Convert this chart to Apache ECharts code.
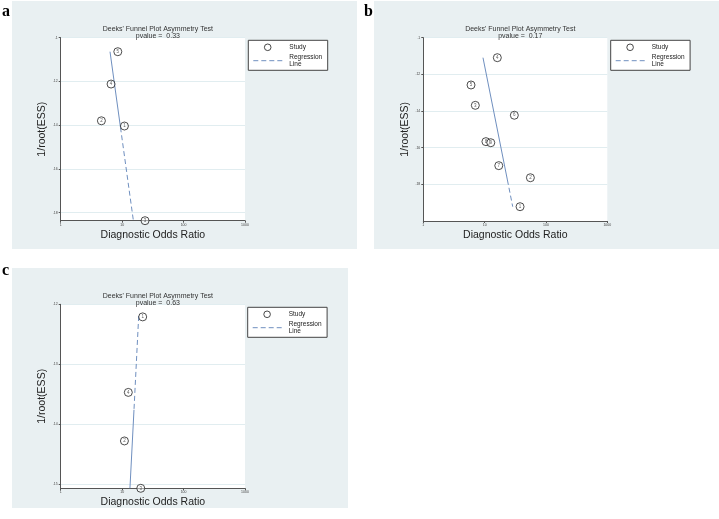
<!DOCTYPE html>
<html><head><meta charset="utf-8">
<script src="https://cdn.jsdelivr.net/npm/echarts@6/dist/echarts.min.js"></script>
<style>html,body{margin:0;padding:0;background:#fff}#c{width:719px;height:519px}</style>
</head><body><div id="c"></div>
<script>
// ---- Data ----
const panelLabels = ['a', 'b', 'c'];
const pvalues = ['0.33', '0.17', '0.63'];
const xTicks = [1, 10, 100, 1000];

// Panel a: [DOR, 1/root(ESS), study id]
const studiesA = [[8.5, 0.1064, 5], [6.6, 0.1212, 4], [4.6, 0.1380, 2], [10.9, 0.1404, 1], [23.6, 0.1837, 3]];
const regSolidA = [[6.35, 0.1064], [9.4, 0.141]];
const regDashA = [[9.4, 0.141], [15.2, 0.1834]];

// Panel b
const studiesB = [[16.1, 0.1109, 4], [6.0, 0.1258, 5], [7.05, 0.1369, 3], [30.5, 0.1423, 6], [10.5, 0.1567, 8],
  [12.6, 0.1573, 9], [17.0, 0.1698, 7], [55.7, 0.1764, 2], [37.8, 0.1922, 1]];
const regSolidB = [[9.4, 0.1109], [23.5, 0.1776]];
const regDashB = [[23.5, 0.1776], [28.7, 0.1922]];

// Panel c
const studiesC = [[21.6, 0.1221, 1], [12.6, 0.1347, 4], [10.9, 0.1428, 2], [20.1, 0.1507, 3]];
const regDashC = [[18.6, 0.12195], [15.6, 0.1376]];
const regSolidC = [[15.6, 0.1376], [13.4, 0.1507]];

const yRanges = [[0.1, 0.1837, 0.02], [0.1, 0.2, 0.02], [0.12, 0.1507, 0.01]];

// ---- Layout ----
const grids = [
  {left: 60.7, top: 37.7, width: 184.3, height: 183},
  {left: 423.3, top: 37.7, width: 184, height: 183.3},
  {left: 60.7, top: 304.3, width: 184.3, height: 184}
];
const bgs = [[12, 1, 345, 248], [374, 1, 345, 248], [12, 268, 336, 240]];
const labelPos = [[2, 4], [364, 4], [2, 263]];
const legendBoxes = [[248.3, 40.3], [610.7, 40.3], [247.7, 307.3]];

const BG = '#e9f0f2', GRIDC = '#e1edf0', REG = '#6f8fbf', AX = '#555';
const studies = [studiesA, studiesB, studiesC];
const regSolid = [regSolidA, regSolidB, regSolidC];
const regDash = [regDashA, regDashB, regDashC];

const fmtY = v => String(+(+v).toFixed(3)).replace(/^0/, '');

const option = {
  animation: false,
  backgroundColor: '#fff',
  title: [], grid: [], xAxis: [], yAxis: [], series: [], graphic: []
};

for (let i = 0; i < 3; i++) {
  const g = grids[i];
  option.grid.push({left: g.left, top: g.top, width: g.width, height: g.height,
    show: true, backgroundColor: '#fff', borderWidth: 0, containLabel: false});
  option.title.push({
    text: "Deeks' Funnel Plot Asymmetry Test\npvalue =  " + pvalues[i],
    left: g.left + g.width / 2, top: g.top - 17, textAlign: 'center',
    textStyle: {fontFamily: 'Liberation Sans', fontSize: 7, fontWeight: 'normal', color: '#333', lineHeight: 7}
  });
  option.xAxis.push({
    gridIndex: i, type: 'log', logBase: 10, min: xTicks[0], max: xTicks[xTicks.length - 1],
    name: 'Diagnostic Odds Ratio', nameLocation: 'middle', nameGap: 8.5,
    nameTextStyle: {fontFamily: 'Liberation Sans', fontSize: 10.5, color: '#222'},
    axisLine: {lineStyle: {color: AX, width: 1}},
    axisTick: {show: true, length: 2, lineStyle: {color: AX}},
    minorTick: {show: false},
    axisLabel: {fontSize: 3.5, color: '#444', margin: 2, fontFamily: 'Liberation Sans', formatter: v => String(Math.round(v))},
    splitLine: {show: false}
  });
  const yr = yRanges[i];
  option.yAxis.push({
    gridIndex: i, type: 'value', inverse: true, min: yr[0], max: yr[1], interval: yr[2],
    name: '1/root(ESS)', nameLocation: 'middle', nameGap: 13,
    nameTextStyle: {fontFamily: 'Liberation Sans', fontSize: 10.5, color: '#222'},
    axisLine: {show: true, lineStyle: {color: AX, width: 1}},
    axisTick: {show: true, length: 2, lineStyle: {color: AX}},
    axisLabel: {fontSize: 3.5, color: '#444', margin: 3, formatter: fmtY, showMaxLabel: false, fontFamily: 'Liberation Sans'},
    splitLine: {show: true, lineStyle: {color: GRIDC, width: 1}}
  });
  option.series.push({
    type: 'line', xAxisIndex: i, yAxisIndex: i, data: regSolid[i], symbol: 'none',
    lineStyle: {color: REG, width: 1, type: 'solid'}, z: 3
  });
  option.series.push({
    type: 'line', xAxisIndex: i, yAxisIndex: i, data: regDash[i], symbol: 'none',
    lineStyle: {color: REG, width: 1, type: [5, 3]}, z: 3
  });
  option.series.push({
    type: 'scatter', xAxisIndex: i, yAxisIndex: i, data: studies[i], symbol: 'circle', symbolSize: 8,
    clip: false,
    itemStyle: {color: 'rgba(255,255,255,0.6)', borderColor: '#222', borderWidth: 1},
    label: {show: true, position: 'inside', formatter: p => p.data[2], fontSize: 4.5, color: '#333', fontFamily: 'Liberation Sans'},
    z: 4
  });

  const b = bgs[i];
  option.graphic.push({type: 'rect', shape: {x: b[0], y: b[1], width: b[2], height: b[3]}, style: {fill: BG}, z: -10, silent: true});
  const lp = labelPos[i];
  option.graphic.push({type: 'text', left: lp[0], top: lp[1], z: 10,
    style: {text: panelLabels[i], font: 'bold 16px "Liberation Serif"', fill: '#000'}});
  const lb = legendBoxes[i];
  option.graphic.push({type: 'rect', shape: {x: lb[0], y: lb[1], width: 79.4, height: 30}, style: {fill: '#fff', stroke: '#444', lineWidth: 1}, z: 5});
  option.graphic.push({type: 'circle', shape: {cx: lb[0] + 19.4, cy: lb[1] + 7, r: 3.3}, style: {fill: '#fff', stroke: '#333', lineWidth: 0.9}, z: 6});
  option.graphic.push({type: 'text', x: lb[0] + 41, y: lb[1] + 7, z: 6,
    style: {text: 'Study', font: '6.5px "Liberation Sans"', fill: '#222', verticalAlign: 'middle'}});
  option.graphic.push({type: 'line', shape: {x1: lb[0] + 5, y1: lb[1] + 20.4, x2: lb[0] + 36, y2: lb[1] + 20.4},
    style: {stroke: REG, lineWidth: 1, lineDash: [5, 3]}, z: 6});
  option.graphic.push({type: 'text', x: lb[0] + 41, y: lb[1] + 20.5, z: 6,
    style: {text: 'Regression\nLine', font: '6.5px "Liberation Sans"', fill: '#222', verticalAlign: 'middle', lineHeight: 6.8}});
}

const chart = echarts.init(document.getElementById('c'), null, {renderer: 'canvas'});
chart.setOption(option);
</script></body></html>
